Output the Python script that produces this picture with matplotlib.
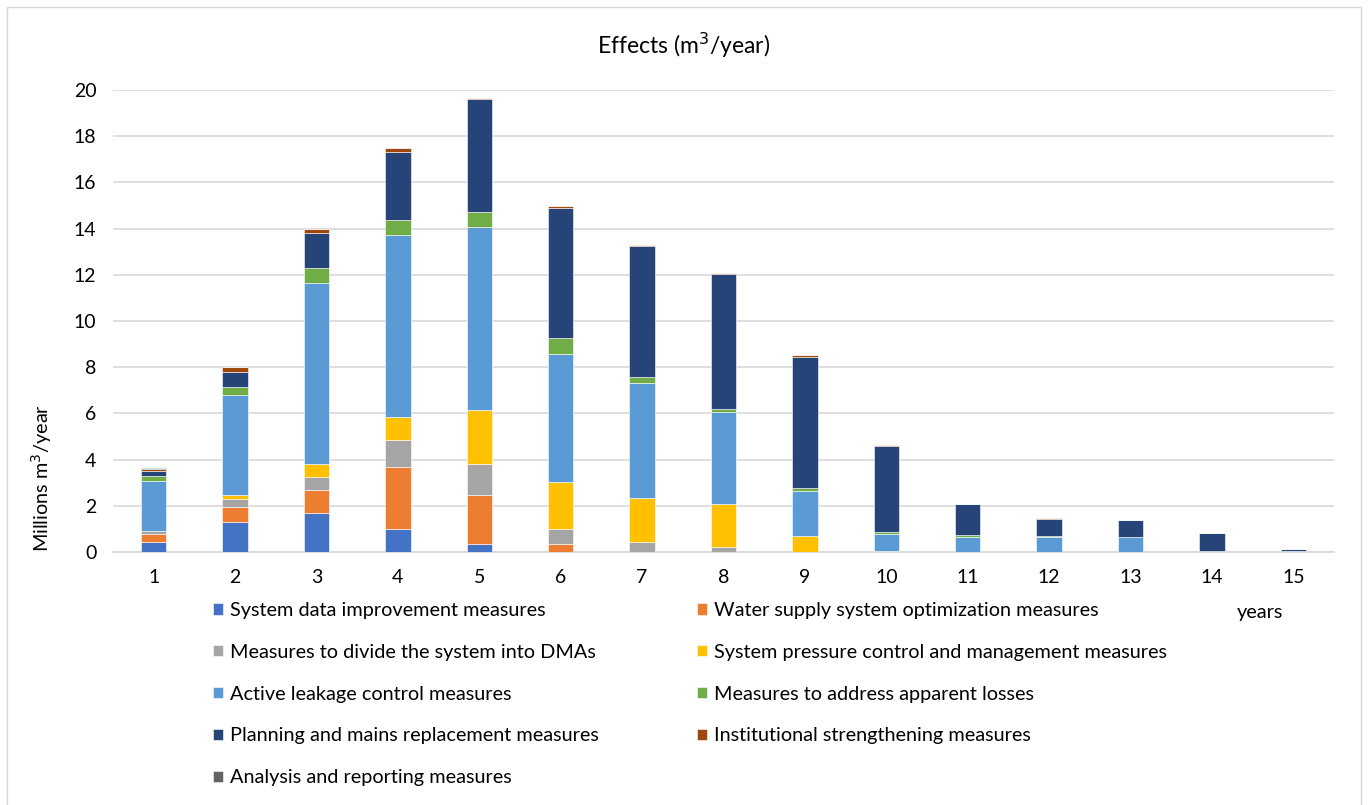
import numpy as np
import matplotlib.pyplot as plt
from matplotlib.patches import Rectangle

plt.rcParams['font.family'] = ['Lato', 'DejaVu Sans']

years = [str(i) for i in range(1, 16)]
labels = ["System data improvement measures",
          "Water supply system optimization measures",
          "Measures to divide the system into DMAs",
          "System pressure control and management measures",
          "Active leakage control measures",
          "Measures to address apparent losses",
          "Planning and mains replacement measures",
          "Institutional strengthening measures",
          "Analysis and reporting measures"]
colors = ["#4472C4", "#ED7D31", "#A5A5A5", "#FFC000", "#5B9BD5",
          "#70AD47", "#264478", "#9E480E", "#636363"]

# millions m3/year
data_impr = [0.45, 1.30, 1.69, 1.00, 0.36, 0, 0, 0, 0, 0, 0, 0, 0, 0, 0]
optim = [0.34, 0.65, 1.00, 2.66, 2.11, 0.35, 0, 0, 0, 0, 0, 0, 0, 0, 0]
dma = [0.10, 0.35, 0.55, 1.20, 1.35, 0.63, 0.45, 0.22, 0, 0, 0, 0, 0, 0, 0]
pressure = [0.02, 0.16, 0.55, 0.98, 2.32, 2.07, 1.89, 1.85, 0.71, 0.05, 0, 0, 0, 0, 0]
leakage = [2.17, 4.32, 7.87, 7.87, 7.91, 5.53, 4.96, 3.97, 1.93, 0.72, 0.67, 0.67, 0.64, 0.02, 0.05]
apparent = [0.20, 0.36, 0.64, 0.65, 0.65, 0.68, 0.27, 0.17, 0.11, 0.10, 0.08, 0.03, 0, 0.04, 0]
mains = [0.23, 0.66, 1.49, 2.95, 4.91, 5.65, 5.68, 5.81, 5.70, 3.71, 1.32, 0.73, 0.74, 0.75, 0.08]
institutional = [0.10, 0.19, 0.20, 0.16, 0.03, 0.06, 0.06, 0.05, 0.06, 0.04, 0.02, 0.03, 0, 0, 0]
analysis = [0.01, 0.01, 0.01, 0.01, 0, 0, 0, 0, 0, 0, 0, 0, 0, 0, 0]

series = [data_impr, optim, dma, pressure, leakage, apparent, mains, institutional, analysis]

fig = plt.figure(figsize=(13.68, 8.05), dpi=100)
ax = fig.add_axes([113/1368, 1-552/805, (1334-113)/1368, (552-90)/805])

x = np.arange(1, 16)
bottom = np.zeros(15)
handles = []
for vals, c, lab in zip(series, colors, labels):
    b = ax.bar(x, vals, 0.31, bottom=bottom, color=c, edgecolor='white', linewidth=0.4, label=lab, zorder=3)
    handles.append(b)
    bottom += np.array(vals)

ax.set_xlim(0.5, 15.5)
ax.set_ylim(0, 20)
ax.set_yticks(range(0, 21, 2))
ax.set_xticks(x)
ax.set_xticklabels(years)
ax.yaxis.grid(True, color='#D9D9D9', linewidth=1.2, zorder=0)
for s in ['top', 'right', 'left']:
    ax.spines[s].set_visible(False)
ax.spines['bottom'].set_color('#D9D9D9')
ax.spines['bottom'].set_linewidth(1.2)
ax.tick_params(axis='both', length=0, labelsize=14, colors='#000000')
ax.tick_params(axis='y', pad=12)
ax.tick_params(axis='x', pad=12)

fig.text(684/1368, 1-45/805, "Effects (m$^3$/year)", ha='center', va='center', fontsize=16.5)
fig.text(42/1368, 1-478/805, "Millions m$^3$/year", rotation=90, ha='center', va='center', fontsize=14.3)
fig.text(1260/1368, 1-612/805, "years", ha='center', va='center', fontsize=14.3)

kw = dict(frameon=False, fontsize=14.3, handlelength=0.5, handleheight=0.5,
          handletextpad=0.35, labelspacing=1.25, borderaxespad=0, borderpad=0)
leg1 = fig.legend([handles[i] for i in [0, 2, 4, 6, 8]], [labels[i] for i in [0, 2, 4, 6, 8]],
                  loc='upper left', bbox_to_anchor=(213/1368, 1-602/805), **kw)
leg2 = fig.legend([handles[i] for i in [1, 3, 5, 7]], [labels[i] for i in [1, 3, 5, 7]],
                  loc='upper left', bbox_to_anchor=(697/1368, 1-602/805), **kw)

# chart area border
fig.patches.append(Rectangle((7/1368, -0.01), 1354/1368, 1-7/805+0.01, transform=fig.transFigure,
                             fill=False, edgecolor='#D9D9D9', linewidth=1.0))

fig.savefig("out.png", dpi=100)
